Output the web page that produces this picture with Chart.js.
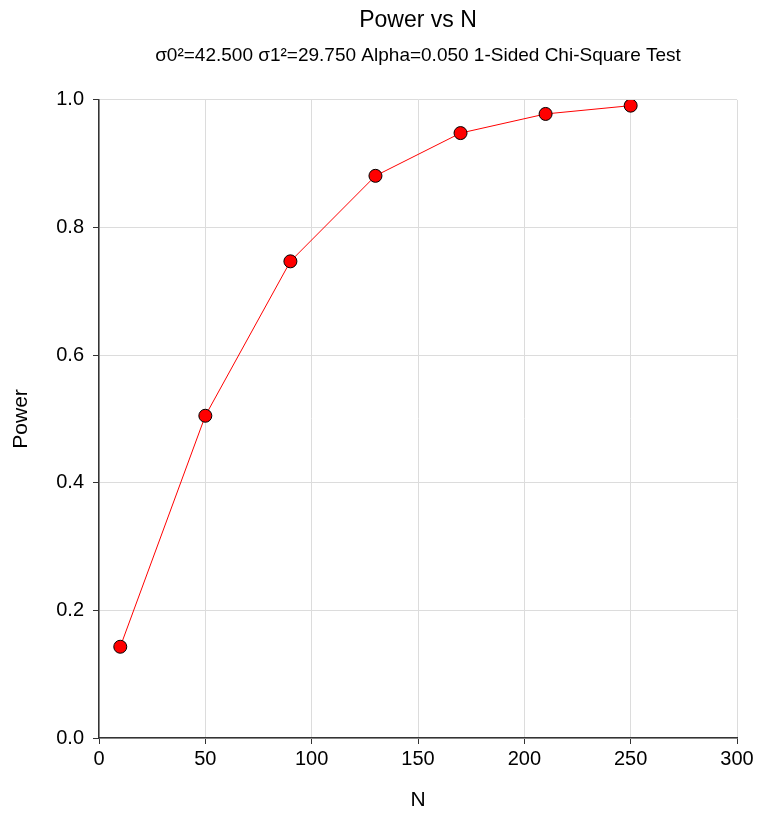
<!DOCTYPE html>
<html>
<head>
<meta charset="utf-8">
<script src="https://cdn.jsdelivr.net/npm/chart.js@4.4.0/dist/chart.umd.min.js"></script>
<style>
  html, body { margin: 0; padding: 0; background: #fff; }
  #wrap { width: 759px; height: 814px; }
</style>
</head>
<body>
<div id="wrap"><canvas id="powerChart" width="759" height="814"></canvas></div>
<script>
// Power curve data
const sampleSizes = [10, 50, 90, 130, 170, 210, 250];
const powerValues = [0.143, 0.505, 0.747, 0.881, 0.948, 0.978, 0.991];
const xTicks = [0, 50, 100, 150, 200, 250, 300];
const yTicks = [0.0, 0.2, 0.4, 0.6, 0.8, 1.0];

const FONT = "Arial, 'Liberation Sans', sans-serif";
const GRID = "#dcdcdc";
const AXIS = "#333333";

new Chart(document.getElementById("powerChart"), {
  type: "line",
  data: {
    datasets: [{
      data: sampleSizes.map((n, i) => ({ x: n, y: powerValues[i] })),
      borderColor: "#ff0000",
      borderWidth: 1,
      backgroundColor: "#ff0000",
      pointBackgroundColor: "#ff0000",
      pointBorderColor: "#000000",
      pointBorderWidth: 1,
      pointRadius: 6.5,
      tension: 0,
      fill: false,
    }],
  },
  options: {
    responsive: false,
    animation: false,
    layout: { padding: { left: 0, right: 22, top: 6.5, bottom: 0 } },
    plugins: {
      legend: { display: false },
      tooltip: { enabled: false },
      title: {
        display: true,
        text: "Power vs N",
        fullSize: false,
        color: "#000",
        font: { family: FONT, size: 23, weight: "normal" },
        padding: { top: 0, bottom: 10.5 },
      },
      subtitle: {
        display: true,
        text: "σ0²=42.500 σ1²=29.750 Alpha=0.050 1-Sided Chi-Square Test",
        fullSize: false,
        color: "#000",
        font: { family: FONT, size: 19, weight: "normal" },
        padding: { top: 0, bottom: 32.5 },
      },
    },
    scales: {
      x: {
        type: "linear",
        min: 0, max: 300,
        afterBuildTicks: s => { s.ticks = xTicks.map(v => ({ value: v })); },
        afterFit: s => { s.height = 76; },
        grid: { color: GRID, tickColor: AXIS, tickLength: 6, drawTicks: true },
        border: { color: AXIS, width: 1.5 },
        ticks: { color: "#000", font: { family: FONT, size: 20 }, padding: 3 },
        title: {
          display: true, text: "N", color: "#000",
          font: { family: FONT, size: 21 }, padding: { top: 0, bottom: 1.5 },
        },
      },
      y: {
        min: 0, max: 1,
        afterBuildTicks: s => { s.ticks = yTicks.map(v => ({ value: v })); },
        afterFit: s => { s.width = 99; },
        grid: { color: GRID, tickColor: AXIS, tickLength: 6, drawTicks: true },
        border: { color: AXIS, width: 1.5 },
        ticks: {
          color: "#000", font: { family: FONT, size: 20 }, padding: 9,
          callback: v => v.toFixed(1),
        },
        title: {
          display: true, text: "Power", color: "#000",
          font: { family: FONT, size: 21 }, padding: { top: 9, bottom: 0 },
        },
      },
    },
  },
});
</script>
</body>
</html>
